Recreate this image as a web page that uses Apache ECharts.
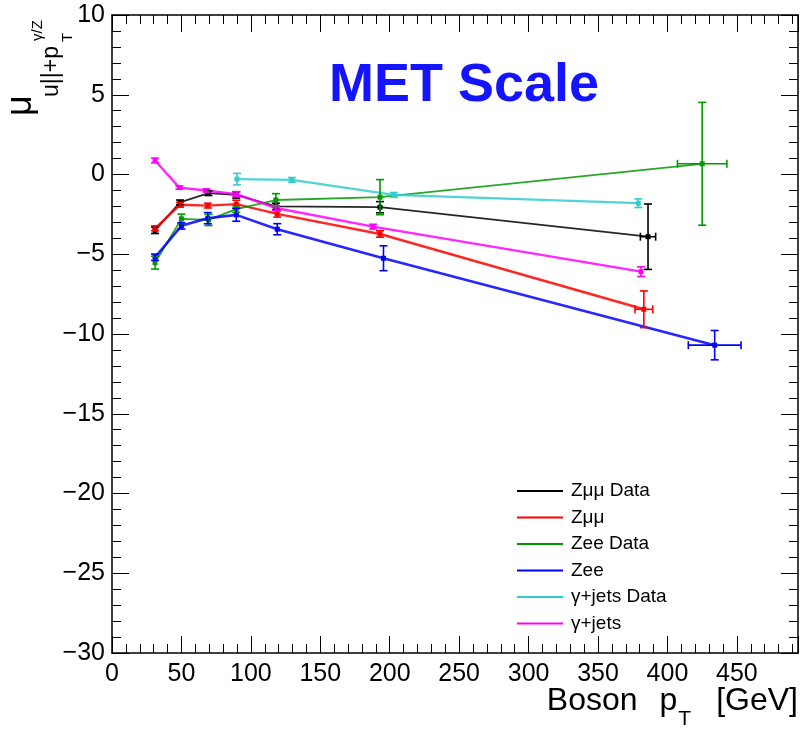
<!DOCTYPE html>
<html><head><meta charset="utf-8">
<script src="https://cdn.jsdelivr.net/npm/echarts@6/dist/echarts.min.js"></script>
<style>html,body{margin:0;padding:0;background:#fff}#c{width:803px;height:734px}</style>
</head><body><div id="c"></div>
<script>
// ---- data ----
const seriesNames = ['Zμμ Data', 'Zμμ', 'Zee Data', 'Zee', 'γ+jets Data', 'γ+jets'];
const seriesColors = ['#000000', '#ff0000', '#009900', '#0000ff', '#33cccc', '#ff00ff'];

const zmmDataX    = [31, 49, 69.5, 89.5, 118, 193, 386];
const zmmDataY    = [-3.5, -1.75, -1.17, -1.28, -2.0, -2.05, -3.9];
const zmmDataYErr = [0.2, 0.15, 0.15, 0.2, 0.2, 0.35, 2.05];
const zmmDataXErr = [0, 0, 0, 0, 0, 0, 5.5];

const zmmMcX    = [31, 49, 69, 89.5, 119, 193, 383];
const zmmMcY    = [-3.37, -1.9, -1.95, -1.86, -2.47, -3.73, -8.45];
const zmmMcYErr = [0.15, 0.15, 0.15, 0.25, 0.2, 0.2, 1.15];
const zmmMcXErr = [0, 0, 0, 0, 0, 0, 6.4];

const zeeDataX    = [31, 50, 69.5, 89.5, 118, 193, 425];
const zeeDataY    = [-5.53, -2.78, -2.85, -2.17, -1.6, -1.42, 0.67];
const zeeDataYErr = [0.4, 0.3, 0.35, 0.2, 0.4, 1.1, 3.85];
const zeeDataXErr = [0, 0, 0, 0, 0, 0, 17.8];

const zeeMcX    = [31, 50, 69, 89.5, 119, 195.5, 434];
const zeeMcY    = [-5.19, -3.22, -2.74, -2.53, -3.43, -5.25, -10.7];
const zeeMcYErr = [0.2, 0.2, 0.35, 0.4, 0.35, 0.78, 0.92];
const zeeMcXErr = [0, 0, 0, 0, 0, 0, 19];

const gjDataX    = [90, 129.5, 203, 379];
const gjDataY    = [-0.29, -0.34, -1.28, -1.8];
const gjDataYErr = [0.36, 0.15, 0.15, 0.27];
const gjDataXErr = [0, 0, 0, 0];

const gjMcX    = [31, 48.5, 68, 89.5, 118, 188, 381];
const gjMcY    = [0.88, -0.82, -1.0, -1.23, -2.1, -3.27, -6.09];
const gjMcYErr = [0.15, 0.1, 0.1, 0.15, 0.15, 0.15, 0.3];
const gjMcXErr = [0, 0, 0, 0, 0, 0, 0];

const xMin = 0, xMax = 494, xMajor = 50, xMinor = 10;
const yMin = -30, yMax = 10, yMajor = 5;

// ---- chart ----
const FONT = '"Liberation Sans", Arial, Helvetica, sans-serif';
const groups = [
  {x: zmmDataX, y: zmmDataY, ey: zmmDataYErr, ex: zmmDataXErr, w: 1.8},
  {x: zmmMcX, y: zmmMcY, ey: zmmMcYErr, ex: zmmMcXErr, w: 2.4},
  {x: zeeDataX, y: zeeDataY, ey: zeeDataYErr, ex: zeeDataXErr, w: 1.8},
  {x: zeeMcX, y: zeeMcY, ey: zeeMcYErr, ex: zeeMcXErr, w: 2.6},
  {x: gjDataX, y: gjDataY, ey: gjDataYErr, ex: gjDataXErr, w: 2.2},
  {x: gjMcX, y: gjMcY, ey: gjMcYErr, ex: gjMcXErr, w: 2.4}
];

function errRenderer(color) {
  return function (params, api) {
    const x = api.value(0), y = api.value(1), ey = api.value(2), ex = api.value(3);
    const c = api.coord([x, y]);
    const st = {stroke: color, lineWidth: 1.6};
    const cap = 4;
    const ch = [];
    if (ey > 0) {
      const t = api.coord([x, y + ey]), b = api.coord([x, y - ey]);
      ch.push({type: 'line', shape: {x1: c[0], y1: t[1], x2: c[0], y2: b[1]}, style: st});
      ch.push({type: 'line', shape: {x1: c[0] - cap, y1: t[1], x2: c[0] + cap, y2: t[1]}, style: st});
      ch.push({type: 'line', shape: {x1: c[0] - cap, y1: b[1], x2: c[0] + cap, y2: b[1]}, style: st});
    }
    if (ex > 0) {
      const l = api.coord([x - ex, y]), r = api.coord([x + ex, y]);
      ch.push({type: 'line', shape: {x1: l[0], y1: c[1], x2: r[0], y2: c[1]}, style: st});
      ch.push({type: 'line', shape: {x1: l[0], y1: c[1] - cap, x2: l[0], y2: c[1] + cap}, style: st});
      ch.push({type: 'line', shape: {x1: r[0], y1: c[1] - cap, x2: r[0], y2: c[1] + cap}, style: st});
    }
    return {type: 'group', children: ch};
  };
}

const series = [];
groups.forEach((g, i) => {
  const color = seriesColors[i];
  series.push({
    type: 'line', name: seriesNames[i],
    data: g.x.map((v, k) => [v, g.y[k]]),
    symbol: 'rect', symbolSize: 5, showSymbol: true,
    itemStyle: {color: color},
    lineStyle: {color: color, width: g.w, opacity: 0.85},
    z: 3, animation: false
  });
  series.push({
    type: 'custom', name: seriesNames[i] + ' err',
    data: g.x.map((v, k) => [v, g.y[k], g.ey[k], g.ex[k]]),
    encode: {x: 0, y: 1},
    renderItem: errRenderer(color),
    z: 4, animation: false
  });
});

const axisLineStyle = {color: '#000', width: 1.5};
const tickStyle = {color: '#000', width: 1};

function xAx(pos, interval, len, labels) {
  return {
    type: 'value', min: xMin, max: xMax, interval: interval, position: pos,
    axisLine: {show: interval === xMajor, onZero: false, lineStyle: axisLineStyle},
    axisTick: {show: true, inside: true, length: len, lineStyle: tickStyle},
    axisLabel: {show: labels, fontSize: 25, color: '#000', fontFamily: FONT, margin: 9,
      formatter: v => (v % xMajor === 0 ? String(v) : '')},
    splitLine: {show: false}
  };
}
function yAx(pos, labels) {
  return {
    type: 'value', min: yMin, max: yMax, interval: yMajor, position: pos,
    axisLine: {show: true, onZero: false, lineStyle: axisLineStyle},
    axisTick: {show: true, inside: true, length: 17, lineStyle: tickStyle},
    minorTick: {show: true, splitNumber: 5, length: 9, lineStyle: tickStyle},
    axisLabel: {show: labels, fontSize: 25, color: '#000', fontFamily: FONT, margin: 7,
      formatter: v => (v < 0 ? '\u2212' + Math.abs(v) : String(v))},
    splitLine: {show: false}, minorSplitLine: {show: false}
  };
}

const option = {
  animation: false,
  backgroundColor: '#fff',
  grid: {left: 112, top: 15, right: 5, bottom: 81, containLabel: false, outerBoundsMode: 'none'},
  title: {
    text: 'MET Scale', left: 329, top: 59, padding: 0,
    textStyle: {fontSize: 54, fontWeight: 'bold', color: '#1414ff', fontFamily: FONT, lineHeight: 54}
  },
  legend: {
    data: seriesNames, orient: 'vertical', left: 517, top: 481, padding: 0,
    icon: 'rect', itemWidth: 46, itemHeight: 2, itemGap: 6.5,
    selectedMode: false,
    textStyle: {fontSize: 19, lineHeight: 20, color: '#000', fontFamily: FONT, padding: [0, 0, 0, 3]}
  },
  xAxis: [
    xAx('bottom', xMajor, 17, true),
    xAx('bottom', xMinor, 9, false),
    xAx('top', xMajor, 17, false),
    xAx('top', xMinor, 9, false)
  ],
  yAxis: [yAx('left', true), yAx('right', false)],
  graphic: [
    // x-axis title
    {type: 'text', x: 798, y: 685,
      style: {
        text: '{a|Boson}{p|p}{t|T}{g|[GeV]}', align: 'right', verticalAlign: 'top',
        rich: {
          a: {fontSize: 32, lineHeight: 32, fontFamily: FONT, fill: '#000', verticalAlign: 'top'},
          p: {fontSize: 32, lineHeight: 32, fontFamily: FONT, fill: '#000', verticalAlign: 'top', padding: [0, 0, 0, 22]},
          t: {fontSize: 21, lineHeight: 21, fontFamily: FONT, fill: '#000', verticalAlign: 'top', padding: [24, 0, 0, 1]},
          g: {fontSize: 32, lineHeight: 32, fontFamily: FONT, fill: '#000', verticalAlign: 'top', padding: [0, 0, 0, 25]}
        }
      }},
    // y-axis title
    {type: 'text', x: 21.5, y: 116, rotation: Math.PI / 2,
      style: {text: 'μ', font: '36px ' + FONT, fill: '#000', align: 'left', verticalAlign: 'middle'}},
    {type: 'text', x: 52, y: 97, rotation: Math.PI / 2,
      style: {text: 'u||+p', font: '23px ' + FONT, fill: '#000', align: 'left', verticalAlign: 'middle'}},
    {type: 'text', x: 67.5, y: 42, rotation: Math.PI / 2,
      style: {text: 'T', font: '15px ' + FONT, fill: '#000', align: 'left', verticalAlign: 'middle'}},
    {type: 'text', x: 37.8, y: 41, rotation: Math.PI / 2,
      style: {text: 'γ/Z', font: '15px ' + FONT, fill: '#000', align: 'left', verticalAlign: 'middle'}}
  ],
  series: series
};

const chart = echarts.init(document.getElementById('c'));
chart.setOption(option);
</script>
</body></html>
